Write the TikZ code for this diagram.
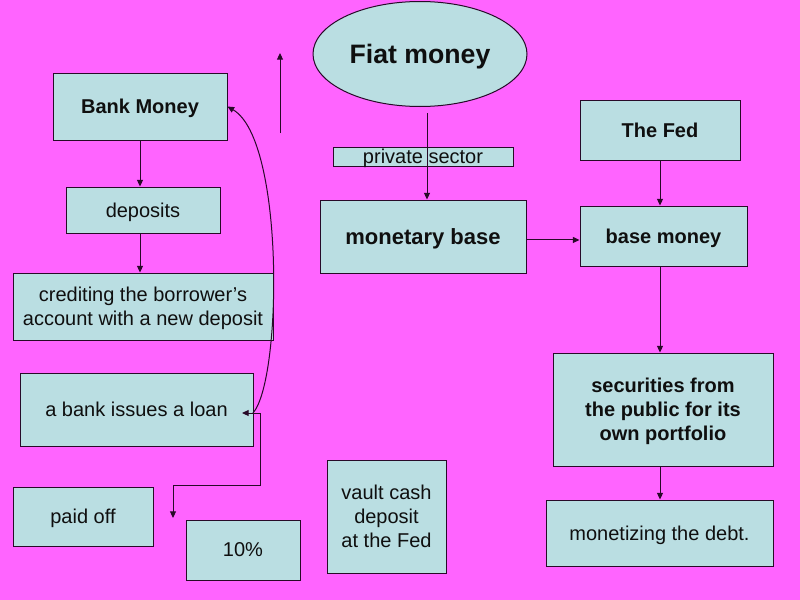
\documentclass[tikz,border=0pt]{standalone}
\usepackage{fontspec}
\setmainfont{Liberation Sans}
\usetikzlibrary{arrows.meta,shapes.geometric}
\definecolor{bgpink}{RGB}{255,100,255}
\definecolor{boxfill}{RGB}{186,222,226}
\definecolor{linecol}{RGB}{40,10,40}
\definecolor{txt}{RGB}{15,15,15}
\tikzset{
  sz/.style 2 args={minimum width=#1*0.75pt, minimum height=#2*0.75pt},
  boxn/.style={draw=linecol, line width=0.75pt, fill=boxfill, inner sep=0pt, align=center, text=txt,
    text depth=0pt, font=\fontsize{15}{18}\selectfont},
  boldn/.style={boxn, font=\fontsize{15}{18}\selectfont\bfseries},
  conn/.style={draw=linecol, line width=0.75pt, -{Triangle[length=5pt,width=4.5pt]}},
  conn2/.style={draw=linecol, line width=0.75pt, {Triangle[length=5pt,width=4.5pt]}-{Triangle[length=5pt,width=4.5pt]}}
}
\begin{document}
\begin{tikzpicture}[x=0.75pt,y=-0.75pt]
\useasboundingbox (0,0) rectangle (800,600);
\fill[bgpink] (0,0) rectangle (800,600);

% left column
\node[boldn, sz={174}{67}] (bank) at (140,106.5) {Bank Money};
\node[boxn, sz={154}{46}] (dep) at (143,210) {deposits};
\node[boxn, sz={260}{67}] (cred) at (143,306.5) {crediting the borrower’s\\account with a new deposit};
\node[boxn, sz={233}{73}] (loan) at (136.5,409.5) {a bank issues a loan};
\node[boxn, sz={140}{59}] (paid) at (83,516.5) {paid off};
\node[boxn, sz={114}{60}] (ten) at (243,550) {10\%};

% middle
\node[ellipse, draw=linecol, line width=0.75pt, fill=boxfill, inner sep=0pt, sz={214}{105},
  text=txt, text depth=0pt, font=\fontsize{20}{24}\selectfont\bfseries] (fiat) at (420,54) {Fiat money};
\node[boxn, sz={180}{19}] (priv) at (423,156.5) {private sector};
\node[boxn, sz={206}{73}, font=\fontsize{16.5}{20}\selectfont\bfseries] (mb) at (423,236.5) {monetary base};
\node[boxn, sz={119}{113}] (vault) at (386.5,516.5) {vault cash\\deposit\\at the Fed};

% right column
\node[boldn, sz={160}{60}] (fed) at (660,130) {The Fed};
\node[boldn, sz={167}{60}] (bm) at (663.5,236) {base money};
\node[boldn, sz={220}{113}] (sec) at (663,409.5) {securities from\\the public for its\\own portfolio};
\node[boxn, sz={227}{66}] (mon) at (659.5,533) {monetizing the debt.};

% free ends
\coordinate (upA) at (280,133);
\coordinate (upB) at (280,53);
\coordinate (fs) at (427,113);
\coordinate (la) at (242,413);
\coordinate (lj) at (260,413);
\coordinate (lk) at (260,485);
\coordinate (pd) at (173,518);
\coordinate (lc) at (253,413);
\coordinate (mbe) at ([yshift=-2.6pt]mb.east);

% connectors
\draw[conn] (bank.south) -- (bank.south |- dep.north);
\draw[conn] (bank.south |- dep.south) -- (bank.south |- cred.north);
\draw[conn] (upA) -- (upB);
\draw[conn] (fs) -- (fs |- mb.north);
\draw[conn] (mbe) -- (mbe -| bm.west);
\draw[conn] (fed.south) -- (fed.south |- bm.north);
\draw[conn] (fed.south |- bm.south) -- (fed.south |- sec.north);
\draw[conn] (fed.south |- sec.south) -- (fed.south |- mon.north);
\draw[conn2] (la) -- (lj) -- (lk) -| (pd);
\draw[conn] (lc) .. controls (282,380) and (285,140) .. (bank.east);
\end{tikzpicture}
\end{document}
